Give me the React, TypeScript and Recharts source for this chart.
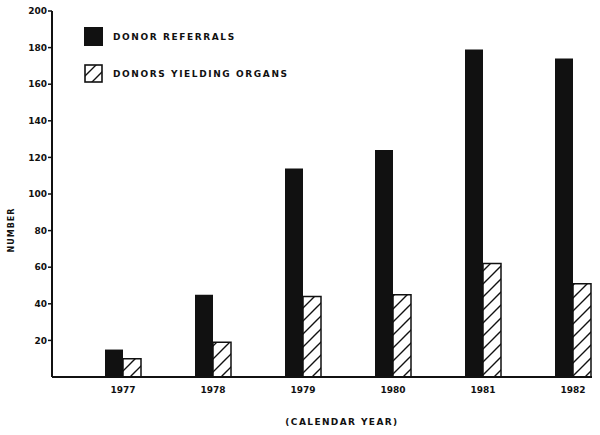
import { BarChart, Bar, XAxis, YAxis } from 'recharts';

const years = ['1977', '1978', '1979', '1980', '1981', '1982'];
const referrals = [15, 45, 114, 124, 179, 174];
const yielding = [10, 19, 44, 45, 62, 51];
const yTicks = [20, 40, 60, 80, 100, 120, 140, 160, 180, 200];

const data = years.map((year, i) => ({ year, referrals: referrals[i], yielding: yielding[i] }));

const font = '"DejaVu Sans", sans-serif';

// legend drawn over the plot, upper left, like the original figure
function LegendBox() {
  const row = { display: 'flex', alignItems: 'center', height: 19, marginBottom: 18 };
  const text = { fontFamily: font, fontSize: 9, fontWeight: 700, letterSpacing: 1.6, color: '#111', marginLeft: 10 };
  return (
    <div style={{ position: 'absolute', left: 84, top: 27 }}>
      <div style={row}>
        <svg width={19} height={19}>
          <rect x={0} y={0} width={19} height={19} fill="#111" />
        </svg>
        <span style={text}>DONOR REFERRALS</span>
      </div>
      <div style={row}>
        <svg width={19} height={19}>
          <rect x={1} y={1} width={17} height={17} fill="url(#hatch)" stroke="#111" strokeWidth={1.6} />
        </svg>
        <span style={text}>DONORS YIELDING ORGANS</span>
      </div>
    </div>
  );
}

function YLabel({ viewBox }: any) {
  const x = 11;
  const cy = viewBox.y + viewBox.height / 2 + 36;
  return (
    <text
      x={x}
      y={cy}
      transform={`rotate(-90, ${x}, ${cy})`}
      textAnchor="middle"
      dominantBaseline="central"
      fill="#111"
      fontSize={8}
      fontWeight={700}
      fontFamily={font}
      letterSpacing={1}
    >
      NUMBER
    </text>
  );
}

export default function App() {
  return (
    <div style={{ position: 'absolute', left: 0, top: 0, width: 600, height: 435, background: '#fff' }}>
      <BarChart
        width={600}
        height={435}
        data={data}
        margin={{ top: 11, right: 8, left: 8, bottom: 0 }}
        barGap={0}
        barSize={18}
      >
        <defs>
          <pattern id="hatch" patternUnits="userSpaceOnUse" width={13} height={13}>
            <path d="M0,13 L13,0 M-3,3 L3,-3 M10,16 L16,10" stroke="#111" strokeWidth={1.4} />
          </pattern>
        </defs>
        <XAxis
          dataKey="year"
          height={58}
          padding={{ left: 26, right: -26 }}
          tickLine={false}
          axisLine={{ stroke: '#111', strokeWidth: 2 }}
          tick={{ fill: '#111', fontSize: 9, fontWeight: 700, fontFamily: font }}
          tickMargin={4}
          label={{
            value: '(CALENDAR YEAR)',
            position: 'insideBottom',
            offset: 10,
            dx: 20,
            fill: '#111',
            fontSize: 9,
            fontWeight: 700,
            fontFamily: font,
            letterSpacing: 1.4,
          }}
        />
        <YAxis
          width={44}
          domain={[0, 200]}
          ticks={yTicks}
          interval={0}
          tickSize={4}
          tickMargin={1}
          tickLine={{ stroke: '#111', strokeWidth: 1.5 }}
          axisLine={{ stroke: '#111', strokeWidth: 2 }}
          tick={{ fill: '#111', fontSize: 9, fontWeight: 700, fontFamily: font }}
          label={<YLabel />}
        />
        <Bar dataKey="referrals" fill="#111" isAnimationActive={false} />
        <Bar dataKey="yielding" fill="url(#hatch)" stroke="#111" strokeWidth={1.5} isAnimationActive={false} />
      </BarChart>
      <LegendBox />
    </div>
  );
}
